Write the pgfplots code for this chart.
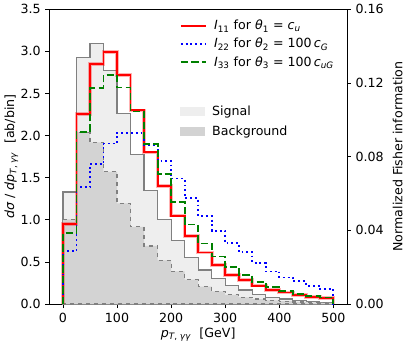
\documentclass[border=0pt]{standalone}
\usepackage{fontspec}
\setmainfont{DejaVu Sans}
\usepackage{pgfplots}
\pgfplotsset{compat=1.18}

\definecolor{sigfill}{HTML}{EEEEEE}
\definecolor{bkgfill}{HTML}{D3D3D3}
\definecolor{mgreen}{HTML}{008000}

\pgfplotsset{
  common/.style={
    width=224pt, height=222pt, scale only axis,
    xmin=-25, xmax=525,
    tick align=outside,
    major tick length=3pt,
    every tick/.style={black, line width=0.6pt},
    font=\fontsize{9.5}{11}\selectfont,
    /pgf/number format/assume math mode=true,
    legend cell align=left,
  },
  lineleg/.style={legend image code/.code={\draw[##1] (0pt,0pt) -- (18.75pt,0pt);}},
  patchleg/.style={legend image code/.code={\fill[##1,draw=none] (0pt,-3.4pt) rectangle (18.75pt,3.4pt);}},
}

\begin{document}
\begin{tikzpicture}
\begin{axis}[
  common,
  ymin=0, ymax=3.5,
  xtick={0,100,200,300,400,500},
  ytick={0,0.5,1,1.5,2,2.5,3,3.5},
  xtick pos=bottom, ytick pos=left,
  yticklabel style={/pgf/number format/.cd, fixed, fixed zerofill, precision=1},
  xlabel={\textit{p}\textsubscript{\textit{T}, \textit{γγ}}\ \ [GeV]},
  ylabel={\textit{dσ} / \textit{dp}\textsubscript{\textit{T}, \textit{γγ}}\ \ [ab/bin]},
  xlabel style={yshift=3pt},
  ylabel style={yshift=-5pt},
  legend style={at={(0.438,0.684)}, anchor=north west, draw=none, fill=none,
    inner sep=0pt, column sep=4pt, row sep=1.5pt,
    nodes={inner sep=1.5pt, text height=8.2pt, text depth=2.5pt}},
]
% signal
\addplot[patchleg, const plot mark left, fill=sigfill, draw=gray, line width=0.9pt] coordinates {
 (0,1.33) (25,2.93) (50,3.09) (75,2.77) (100,2.26) (125,1.78) (150,1.35) (175,1.006)
 (200,0.75) (225,0.553) (250,0.405) (275,0.30) (300,0.225) (325,0.166) (350,0.11)
 (375,0.08) (400,0.06) (425,0.045) (450,0.032) (475,0.022) (500,0.022)
} \closedcycle;
\addlegendentry{Signal}
% background
\addplot[patchleg, const plot mark left, fill=bkgfill, draw=gray, dashed, line width=0.9pt] coordinates {
 (0,1.006) (25,2.04) (50,1.92) (75,1.57) (100,1.195) (125,0.916) (150,0.69) (175,0.52)
 (200,0.387) (225,0.29) (250,0.206) (275,0.15) (300,0.11) (325,0.08) (350,0.06)
 (375,0.045) (400,0.035) (425,0.025) (450,0.02) (475,0.015) (500,0.015)
} \closedcycle;
\addlegendentry{Background}
\end{axis}

\begin{axis}[
  common,
  ymin=0, ymax=0.16,
  axis x line=none, axis y line*=right,
  ytick={0,0.04,0.08,0.12,0.16},
  scaled y ticks=false,
  yticklabel style={/pgf/number format/.cd, fixed, fixed zerofill, precision=2},
  ylabel={Normalized Fisher information},
  legend style={at={(0.438,0.975)}, anchor=north west, draw=none, fill=none,
    inner sep=0pt, column sep=4pt,
    nodes={inner sep=1.5pt, text height=8.2pt, text depth=2.5pt}},
]
% I11 (glow underneath)
\addplot[const plot mark left, red, opacity=0.3, line width=2.8pt, forget plot] coordinates {
 (0,0) (0,0.0433) (25,0.1033) (50,0.1303) (75,0.1367) (100,0.1243) (125,0.1051)
 (150,0.0823) (175,0.0640) (200,0.0480) (225,0.0370) (250,0.0280) (275,0.0213)
 (300,0.0159) (325,0.0132) (350,0.0100) (375,0.0078) (400,0.0063) (425,0.0049)
 (450,0.0040) (475,0.0032) (500,0.0032) (500,0)
};
\addplot[lineleg, const plot mark left, red, line width=1.4pt] coordinates {
 (0,0) (0,0.0433) (25,0.1033) (50,0.1303) (75,0.1367) (100,0.1243) (125,0.1051)
 (150,0.0823) (175,0.0640) (200,0.0480) (225,0.0370) (250,0.0280) (275,0.0213)
 (300,0.0159) (325,0.0132) (350,0.0100) (375,0.0078) (400,0.0063) (425,0.0049)
 (450,0.0040) (475,0.0032) (500,0.0032) (500,0)
};
\addlegendentry{\textit{I}\textsubscript{11} for \textit{θ}\textsubscript{1} = \textit{c}\textsubscript{\textit{u}}}
% I22
\addplot[lineleg, const plot mark left, blue, line width=1.4pt, dash pattern=on 1.4pt off 2.2pt] coordinates {
 (0,0) (0,0.0288) (25,0.0633) (50,0.0759) (75,0.0871) (100,0.0928) (125,0.0928)
 (150,0.0864) (175,0.0777) (200,0.0681) (225,0.0574) (250,0.0478) (275,0.0398)
 (300,0.0331) (325,0.0283) (350,0.0224) (375,0.0177) (400,0.0144) (425,0.0123)
 (450,0.0100) (475,0.0081) (500,0.0081) (500,0)
};
\addlegendentry{\textit{I}\textsubscript{22} for \textit{θ}\textsubscript{2} = 100\,\textit{c}\textsubscript{\textit{G}}}
% I33
\addplot[lineleg, const plot mark left, mgreen, line width=1.4pt, dash pattern=on 5.5pt off 2.4pt] coordinates {
 (0,0) (0,0.0384) (25,0.0933) (50,0.1173) (75,0.1243) (100,0.1175) (125,0.1045)
 (150,0.0869) (175,0.0704) (200,0.0555) (225,0.0432) (250,0.0329) (275,0.0258)
 (300,0.0203) (325,0.0157) (350,0.0121) (375,0.0091) (400,0.0072) (425,0.0054)
 (450,0.0042) (475,0.0036) (500,0.0036) (500,0)
};
\addlegendentry{\textit{I}\textsubscript{33} for \textit{θ}\textsubscript{3} = 100\,\textit{c}\textsubscript{\textit{uG}}}
\end{axis}
\end{tikzpicture}
\end{document}
